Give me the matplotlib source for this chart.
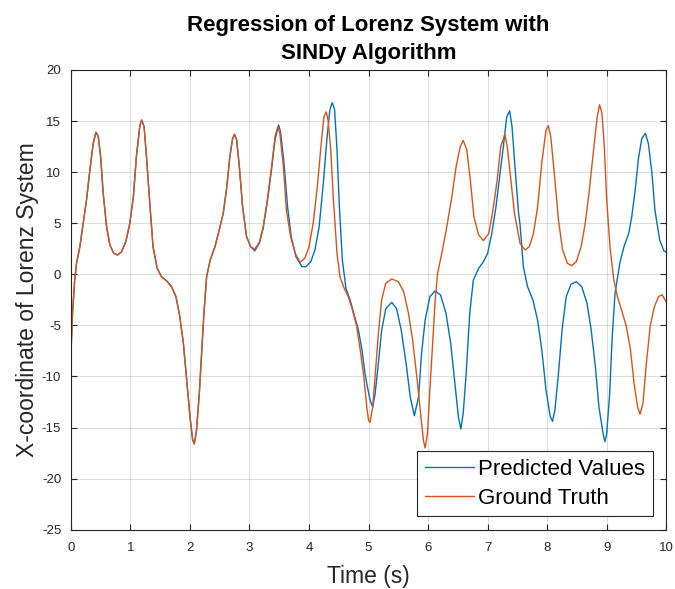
import matplotlib
matplotlib.use("Agg")
import matplotlib.pyplot as plt

plt.rcParams['font.family'] = ['Liberation Sans', 'DejaVu Sans']
plt.rcParams['axes.unicode_minus'] = False

# Ground truth x(t) of the Lorenz system
t_true = [0.000, 0.028, 0.062, 0.095, 0.151, 0.207, 0.263, 0.319, 0.375, 0.42,
          0.46, 0.50, 0.543, 0.60, 0.655, 0.72, 0.784, 0.85, 0.924, 0.99,
          1.05, 1.10, 1.16, 1.19, 1.23, 1.27, 1.33, 1.38, 1.45, 1.52,
          1.61, 1.69, 1.765, 1.83, 1.89, 1.94, 2.00, 2.045, 2.073, 2.11,
          2.157, 2.20, 2.235, 2.28, 2.34, 2.42, 2.49, 2.56, 2.62, 2.67,
          2.717, 2.75, 2.785, 2.83, 2.885, 2.95, 3.02, 3.09, 3.17, 3.23,
          3.30, 3.37, 3.43, 3.475, 3.51, 3.57, 3.62, 3.69, 3.77, 3.85,
          3.93, 4.00, 4.07, 4.14, 4.20, 4.25, 4.29, 4.32, 4.365, 4.41,
          4.47, 4.52, 4.59, 4.66, 4.73, 4.80, 4.86, 4.92, 4.97, 5.00,
          5.025, 5.07, 5.11, 5.165, 5.22, 5.29, 5.39, 5.50, 5.59, 5.67,
          5.74, 5.81, 5.88, 5.92, 5.95, 5.99, 6.03, 6.08, 6.12, 6.16,
          6.23, 6.31, 6.40, 6.47, 6.54, 6.59, 6.65, 6.71, 6.77, 6.85,
          6.93, 7.02, 7.09, 7.16, 7.22, 7.29, 7.33, 7.39, 7.45, 7.546,
          7.63, 7.70, 7.77, 7.84, 7.91, 7.98, 8.02, 8.06, 8.12, 8.19,
          8.26, 8.34, 8.41, 8.49, 8.57, 8.64, 8.71, 8.78, 8.84, 8.88,
          8.92, 8.96, 9.00, 9.06, 9.12, 9.18, 9.25, 9.33, 9.40, 9.46,
          9.52, 9.56, 9.61, 9.66, 9.73, 9.80, 9.87, 9.93, 10.00]
x_true = [-7.9, -3.8, -0.72, 1.08, 2.7, 5.0, 7.3, 10.2, 12.8, 13.9,
          13.5, 11.5, 7.9, 4.66, 2.87, 2.05, 1.89, 2.2, 3.2, 5.0,
          7.6, 11.5, 14.6, 15.1, 14.45, 11.5, 6.6, 2.7, 0.58, -0.23,
          -0.66, -1.21, -2.19, -4.15, -6.76, -10.0, -13.9, -16.2, -16.6, -15.25,
          -11.7, -7.4, -3.8, -0.23, 1.4, 2.7, 4.3, 6.0, 8.6, 11.5,
          13.3, 13.7, 13.15, 10.5, 6.6, 3.7, 2.7, 2.45, 3.2, 4.66,
          7.3, 10.5, 13.5, 14.45, 13.8, 10.5, 6.3, 3.7, 2.05, 1.17,
          1.57, 2.7, 5.0, 8.6, 12.5, 15.4, 15.9, 15.1, 12.2, 7.3,
          2.05, -0.23, -1.37, -2.19, -3.5, -5.1, -7.4, -10.0, -13.0, -14.3,
          -14.5, -13.0, -10.0, -5.8, -2.5, -0.88, -0.46, -0.72, -1.7, -3.8,
          -6.4, -10.0, -13.9, -16.2, -17.0, -15.6, -11.3, -6.4, -2.5, 0.1,
          2.05, 4.5, 7.6, 10.5, 12.5, 13.1, 12.2, 9.2, 5.6, 3.85,
          3.3, 4.0, 6.3, 9.2, 12.5, 13.7, 12.5, 9.2, 6.0, 3.0,
          2.38, 2.7, 4.0, 6.6, 10.9, 14.1, 14.55, 13.5, 9.9, 5.3,
          2.38, 1.08, 0.85, 1.24, 2.7, 5.0, 8.3, 12.2, 15.4, 16.6,
          15.8, 12.5, 7.3, 2.38, -0.56, -2.19, -3.5, -5.1, -7.4, -10.7,
          -13.0, -13.7, -12.6, -9.1, -5.1, -3.2, -2.19, -2.0, -2.7]

# SINDy model prediction of x(t)
t_pred = [0.000, 0.028, 0.062, 0.095, 0.151, 0.207, 0.263, 0.319, 0.375, 0.42,
          0.46, 0.50, 0.543, 0.60, 0.655, 0.72, 0.784, 0.85, 0.924, 0.99,
          1.05, 1.10, 1.16, 1.19, 1.23, 1.27, 1.33, 1.38, 1.45, 1.52,
          1.61, 1.69, 1.765, 1.83, 1.89, 1.94, 2.00, 2.045, 2.073, 2.11,
          2.157, 2.20, 2.235, 2.28, 2.34, 2.42, 2.49, 2.56, 2.62, 2.67,
          2.717, 2.75, 2.785, 2.83, 2.885, 2.95, 3.02, 3.09, 3.17, 3.23,
          3.30, 3.37, 3.43, 3.49, 3.52, 3.58, 3.64, 3.70, 3.78, 3.88,
          3.95, 4.03, 4.10, 4.17, 4.24, 4.30, 4.35, 4.39, 4.43, 4.47,
          4.51, 4.56, 4.62, 4.69, 4.75, 4.83, 4.89, 4.94, 4.98, 5.025,
          5.07, 5.11, 5.165, 5.22, 5.29, 5.39, 5.47, 5.55, 5.63, 5.70,
          5.77, 5.84, 5.89, 5.95, 6.03, 6.12, 6.21, 6.30, 6.38, 6.45,
          6.51, 6.55, 6.59, 6.64, 6.70, 6.76, 6.85, 6.93, 7.00, 7.07,
          7.14, 7.21, 7.27, 7.32, 7.37, 7.41, 7.46, 7.52, 7.546, 7.60,
          7.67, 7.76, 7.84, 7.91, 7.98, 8.05, 8.09, 8.13, 8.19, 8.25,
          8.32, 8.40, 8.49, 8.58, 8.67, 8.74, 8.81, 8.87, 8.94, 8.97,
          9.00, 9.05, 9.09, 9.14, 9.22, 9.29, 9.37, 9.42, 9.48, 9.53,
          9.59, 9.65, 9.70, 9.76, 9.81, 9.89, 9.96, 10.00]
x_pred = [-7.9, -3.8, -0.72, 1.08, 2.7, 5.0, 7.3, 10.2, 12.8, 13.9,
          13.5, 11.5, 7.9, 4.66, 2.87, 2.05, 1.89, 2.2, 3.2, 5.0,
          7.6, 11.5, 14.6, 15.1, 14.45, 11.5, 6.6, 2.7, 0.58, -0.23,
          -0.66, -1.21, -2.19, -4.15, -6.76, -10.0, -13.9, -16.2, -16.6, -15.25,
          -11.7, -7.4, -3.8, -0.23, 1.4, 2.7, 4.3, 6.0, 8.6, 11.5,
          13.3, 13.7, 13.15, 10.5, 6.6, 3.7, 2.7, 2.3, 3.1, 4.5,
          7.1, 10.2, 13.2, 14.6, 14.0, 10.9, 6.6, 3.7, 1.73, 0.75,
          0.75, 1.24, 2.38, 4.66, 8.9, 13.2, 16.1, 16.8, 16.1, 12.2,
          6.6, 1.4, -1.37, -2.5, -3.8, -5.46, -7.4, -9.7, -11.0, -12.3,
          -13.0, -11.7, -8.7, -5.5, -3.35, -2.75, -3.35, -5.5, -8.7, -12.0,
          -13.85, -12.0, -7.75, -4.5, -2.19, -1.63, -2.03, -3.8, -6.76, -10.7,
          -14.0, -15.15, -13.6, -9.7, -3.8, -0.56, 0.58, 1.24, 2.05, 4.0,
          6.6, 9.9, 12.8, 15.4, 16.0, 14.45, 10.5, 6.0, 4.8, 0.75,
          -1.2, -2.5, -4.5, -7.4, -11.3, -13.9, -14.4, -13.3, -9.7, -5.5,
          -2.19, -0.98, -0.72, -1.21, -2.84, -5.46, -9.05, -13.0, -15.6, -16.4,
          -15.6, -11.7, -6.4, -1.86, 1.08, 2.7, 4.0, 5.6, 8.3, 11.2,
          13.3, 13.8, 12.8, 9.9, 6.3, 3.36, 2.3, 2.15]

x_ticks = list(range(0, 11))
y_ticks = list(range(-25, 21, 5))

fig = plt.figure(figsize=(6.75, 5.89), dpi=100)
ax = fig.add_axes([0.105, 0.1007, 0.882, 0.7805])

ax.plot(t_pred, x_pred, color='#0072BD', lw=1.0, label='Predicted Values')
ax.plot(t_true, x_true, color='#D95319', lw=1.0, label='Ground Truth')

ax.set_xlim(0, 10)
ax.set_ylim(-25, 20)
ax.set_xticks(x_ticks)
ax.set_yticks(y_ticks)
ax.grid(True, color='#262626', alpha=0.15, lw=0.8)
ax.set_axisbelow(True)

axis_color = '#262626'
for s in ax.spines.values():
    s.set_color(axis_color)
    s.set_linewidth(0.8)
ax.tick_params(direction='in', top=True, right=True, length=4, width=0.8,
               colors=axis_color, labelsize=9.5, labelcolor=axis_color)
ax.tick_params(axis='x', pad=9)
ax.tick_params(axis='y', pad=7)

ax.set_xlabel('Time (s)', fontsize=16.5, color=axis_color, labelpad=8)
ax.set_ylabel('X-coordinate of Lorenz System', fontsize=16.5, color=axis_color, labelpad=2)
ax.set_title('Regression of Lorenz System with\nSINDy Algorithm', fontsize=16,
             fontweight='bold', color='black', pad=8, linespacing=1.42)

leg = ax.legend(loc='lower right', fontsize=16, fancybox=False, framealpha=1,
                edgecolor='#262626', handlelength=2.2, handletextpad=0.2,
                borderpad=0.35, labelspacing=0.35, borderaxespad=0.6)
leg.get_frame().set_linewidth(0.8)

fig.savefig('out.png', dpi=100)
